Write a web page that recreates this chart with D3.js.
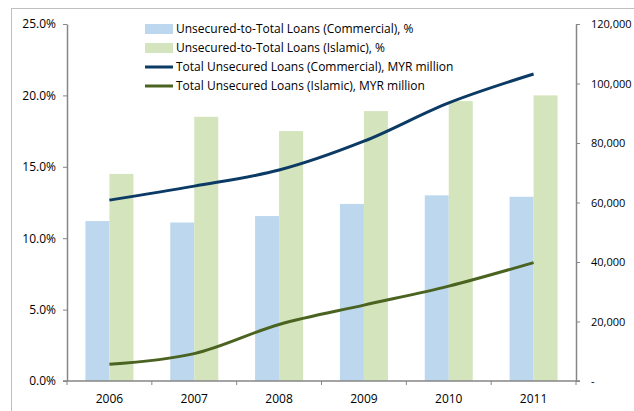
<!DOCTYPE html>
<html><head><meta charset="utf-8">
<script src="https://cdn.jsdelivr.net/npm/d3@7"></script>
<style>body{margin:0;background:#fff}svg{display:block}text{font-family:"Open Sans",sans-serif}</style>
</head><body>
<script>
const years = ["2006","2007","2008","2009","2010","2011"];
const ratioCommercial = [11.2, 11.1, 11.55, 12.4, 13.0, 12.9];
const ratioIslamic = [14.5, 18.5, 17.5, 18.9, 19.6, 20.0];
const loansCommercial = [60800, 65500, 70900, 80600, 93500, 103200];
const loansIslamic = [5600, 9200, 19000, 25500, 31900, 39800];
const leftTicks = [0, 5, 10, 15, 20, 25];
const rightTicks = [0, 20000, 40000, 60000, 80000, 100000, 120000];
const legendLabels = ["Unsecured-to-Total Loans (Commercial), %","Unsecured-to-Total Loans (Islamic), %","Total Unsecured Loans (Commercial), MYR  million","Total Unsecured Loans (Islamic), MYR million"];
const colors = {barC:"#bdd7ee", barI:"#d4e4bc", lineC:"#0b3a64", lineI:"#4b6321"};

const W=634,H=411;
const svg=d3.select("body").append("svg").attr("width",W).attr("height",H);
// outer frame
svg.append("rect").attr("x",11.5).attr("y",8.5).attr("width",W).attr("height",H).attr("fill","none").attr("stroke","#bfbfbf");

const x0=67,x1=576,yTop=24,yBot=381;
const x=d3.scaleBand().domain(years).range([x0,x1]);
const xi=d3.scaleBand().domain(["c","i"]).range([0,48]);
const off=(x.bandwidth()-48)/2;
const yL=d3.scaleLinear().domain([0,25]).range([yBot,yTop]);
const yR=d3.scaleLinear().domain([0,120000]).range([yBot,yTop]);

// bars
const g=svg.append("g");
g.selectAll(".bc").data(years).join("rect").attr("x",d=>x(d)+off+xi("c")).attr("width",xi.bandwidth())
 .attr("y",(d,i)=>yL(ratioCommercial[i])).attr("height",(d,i)=>yBot-yL(ratioCommercial[i])).attr("fill",colors.barC);
g.selectAll(".bi").data(years).join("rect").attr("x",d=>x(d)+off+xi("i")).attr("width",xi.bandwidth())
 .attr("y",(d,i)=>yL(ratioIslamic[i])).attr("height",(d,i)=>yBot-yL(ratioIslamic[i])).attr("fill",colors.barI);

// lines
const line=d3.line().x((d,i)=>x(years[i])+x.bandwidth()/2).y(d=>yR(d)).curve(d3.curveCatmullRom.alpha(0.5));
svg.append("path").datum(loansCommercial).attr("d",line).attr("fill","none").attr("stroke",colors.lineC).attr("stroke-width",3);
svg.append("path").datum(loansIslamic).attr("d",line).attr("fill","none").attr("stroke",colors.lineI).attr("stroke-width",3);

// axes
const axC="#868686";
const la=svg.append("g").attr("transform",`translate(${x0},0)`).call(d3.axisLeft(yL).tickValues(leftTicks).tickFormat(d=>d.toFixed(1)+"%").tickSize(4).tickSizeOuter(0));
const ra=svg.append("g").attr("transform",`translate(${x1},0)`).call(d3.axisRight(yR).tickValues(rightTicks).tickFormat(d=>d===0?"-":d3.format(",")(d)).tickSize(4).tickSizeOuter(0));
const bottomTicks=years.map(d=>x(d)).concat([x1]);
const ba=svg.append("g").attr("transform",`translate(0,${yBot})`);
ba.append("line").attr("x1",x0-4).attr("x2",x1+4).attr("stroke",axC).attr("stroke-width",1.5);
ba.selectAll(".t").data(bottomTicks).join("line").attr("x1",d=>d).attr("x2",d=>d).attr("y1",0).attr("y2",4).attr("stroke",axC);
ba.selectAll(".lab").data(years).join("text").attr("x",d=>x(d)+x.bandwidth()/2).attr("y",22).attr("text-anchor","middle").attr("font-size",12).attr("fill","#000").text(d=>d);
[la,ra].forEach(a=>{a.select(".domain").attr("stroke",axC).attr("stroke-width",1.5);a.selectAll(".tick line").attr("stroke",axC);a.selectAll("text").attr("font-size",12).attr("fill","#000").attr("font-family","'Open Sans',sans-serif");});
la.selectAll("text").attr("dx",-4);
ra.selectAll("text").attr("dx",8).attr("font-size",11);

// legend
const lg=svg.append("g");
legendLabels.forEach((t,i)=>{
  const yy=29+i*19;
  if(i<2) lg.append("rect").attr("x",145).attr("y",yy-5).attr("width",28).attr("height",10).attr("fill",i==0?colors.barC:colors.barI);
  else lg.append("line").attr("x1",145).attr("x2",173).attr("y1",yy).attr("y2",yy).attr("stroke",i==2?colors.lineC:colors.lineI).attr("stroke-width",3);
  lg.append("text").attr("x",176).attr("y",yy+4).attr("font-size",12).attr("fill","#000").text(t);
});
</script>
</body></html>
